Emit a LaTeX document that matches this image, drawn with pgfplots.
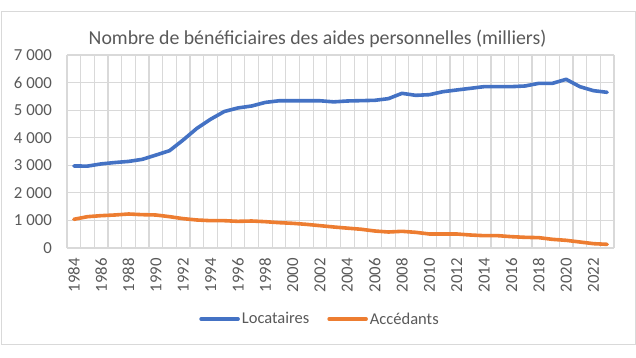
\documentclass[border=0pt]{standalone}
\usepackage{fontspec}
\setmainfont{Carlito}
\usepackage{pgfplots}
\pgfplotsset{compat=1.18}
\definecolor{cblue}{RGB}{68,114,196}
\definecolor{corange}{RGB}{237,125,49}
\definecolor{cgrid}{RGB}{217,217,217}
\definecolor{ctext}{RGB}{89,89,89}
\begin{document}
\begin{tikzpicture}
\useasboundingbox (0pt,0pt) rectangle (636pt,358pt);
\draw[cgrid, line width=1pt] (1pt,13pt) rectangle (635pt,346pt);
\node[anchor=base, text=ctext, inner sep=0pt, font=\fontsize{19.8}{22}\selectfont] at (317.5pt,313pt) {Nombre de bénéficiaires des aides personnelles (milliers)};
\begin{axis}[at={(67pt,110pt)}, anchor=south west, scale only axis,
  width=547pt, height=193pt,
  xmin=1983.5, xmax=2023.5, ymin=0, ymax=7000,
  axis line style={draw=none},
  xtick={1984,1986,...,2022},
  xticklabels={1984,1986,1988,1990,1992,1994,1996,1998,2000,2002,2004,2006,2008,2010,2012,2014,2016,2018,2020,2022},
  minor xtick={1983.5,1984.5,1985.5,1986.5,1987.5,1988.5,1989.5,1990.5,1991.5,1992.5,1993.5,1994.5,1995.5,1996.5,1997.5,1998.5,1999.5,2000.5,2001.5,2002.5,2003.5,2004.5,2005.5,2006.5,2007.5,2008.5,2009.5,2010.5,2011.5,2012.5,2013.5,2014.5,2015.5,2016.5,2017.5,2018.5,2019.5,2020.5,2021.5,2022.5,2023.5},
  ytick={0,1000,...,7000},
  yticklabels={0,1 000,2 000,3 000,4 000,5 000,6 000,7 000},
  xmajorgrids=false, xminorgrids=true, ymajorgrids=true,
  grid style={cgrid, line width=1.2pt},
  minor grid style={cgrid, line width=1.2pt},
  major tick length=0pt, minor tick length=0pt,
  tick style={draw=none},
  ticklabel style={text=ctext, font=\fontsize{16.8}{18}\selectfont},
  xticklabel style={rotate=90, anchor=east, inner sep=0pt},
  xticklabel shift=10pt,
  yticklabel style={anchor=east, inner sep=0pt},
  yticklabel shift=15pt,
  legend style={at={(0.4625,-0.368)}, anchor=center, draw=none, fill=none,
    legend columns=2, font=\fontsize{16.5}{18}\selectfont, text=ctext,
    /tikz/every even column/.append style={column sep=16pt},
    nodes={inner sep=2pt}},
  legend image code/.code={\draw[#1] (0pt,0pt) -- (37pt,0pt);},
  clip=false,
]
\addplot[cblue, line width=3.6pt, line join=round, line cap=round] coordinates {
(1984,2975)(1985,2970)(1986,3050)(1987,3100)(1988,3140)(1989,3215)(1990,3370)(1991,3530)
(1992,3920)(1993,4340)(1994,4670)(1995,4950)(1996,5080)(1997,5150)(1998,5280)(1999,5340)
(2000,5340)(2001,5340)(2002,5340)(2003,5300)(2004,5332)(2005,5344)(2006,5356)(2007,5416)
(2008,5610)(2009,5537)(2010,5561)(2011,5670)(2012,5731)(2013,5791)(2014,5852)(2015,5852)
(2016,5852)(2017,5876)(2018,5972)(2019,5972)(2020,6118)(2021,5852)(2022,5706)(2023,5646)};
\addlegendentry{Locataires}
\addplot[corange, line width=3.6pt, line join=round, line cap=round] coordinates {
(1984,1040)(1985,1136)(1986,1173)(1987,1197)(1988,1233)(1989,1209)(1990,1197)(1991,1136)
(1992,1064)(1993,1016)(1994,991)(1995,991)(1996,967)(1997,979)(1998,955)(1999,919)
(2000,895)(2001,858)(2002,810)(2003,762)(2004,720)(2005,680)(2006,617)(2007,580)
(2008,605)(2009,568)(2010,508)(2011,508)(2012,508)(2013,471)(2014,447)(2015,447)
(2016,411)(2017,387)(2018,375)(2019,314)(2020,278)(2021,218)(2022,157)(2023,133)};
\addlegendentry{Accédants}
\end{axis}
\end{tikzpicture}
\end{document}
